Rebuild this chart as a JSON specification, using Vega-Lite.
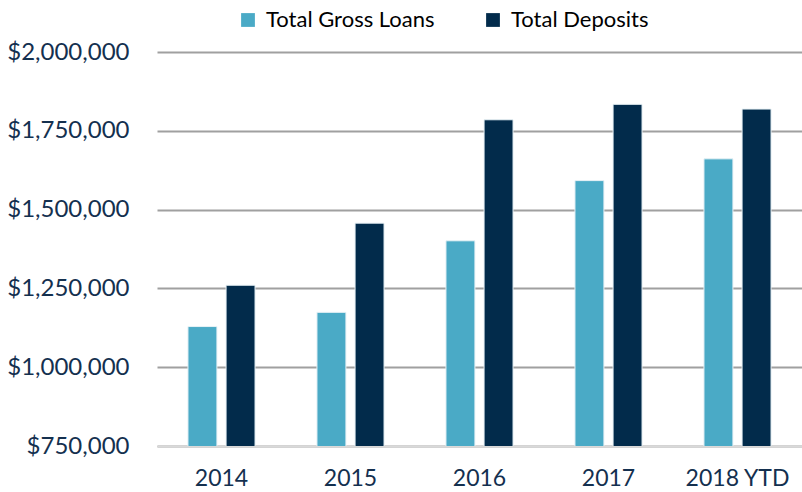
{
  "$schema": "https://vega.github.io/schema/vega-lite/v6.json",
  "autosize": "none",
  "width": 645,
  "height": 394,
  "padding": {"left": 157, "top": 52, "right": 0, "bottom": 46},
  "background": "white",
  "data": {
    "values": [
      {"year": "2014", "series": "Total Gross Loans", "value": 1129000},
      {"year": "2014", "series": "Total Deposits", "value": 1260000},
      {"year": "2015", "series": "Total Gross Loans", "value": 1174000},
      {"year": "2015", "series": "Total Deposits", "value": 1457000},
      {"year": "2016", "series": "Total Gross Loans", "value": 1401000},
      {"year": "2016", "series": "Total Deposits", "value": 1785000},
      {"year": "2017", "series": "Total Gross Loans", "value": 1592000},
      {"year": "2017", "series": "Total Deposits", "value": 1834000},
      {"year": "2018 YTD", "series": "Total Gross Loans", "value": 1661000},
      {"year": "2018 YTD", "series": "Total Deposits", "value": 1819000}
    ]
  },
  "config": {
    "view": {"stroke": null},
    "font": "Lato"
  },
  "mark": {"type": "bar", "stroke": "#e8f2f6", "strokeWidth": 1, "clip": true},
  "encoding": {
    "x": {
      "field": "year",
      "type": "nominal",
      "sort": null,
      "scale": {"paddingInner": 0.48, "paddingOuter": 0.24},
      "axis": {
        "title": null,
        "labelAngle": 0,
        "labelFont": "Lato",
        "labelFontSize": 23,
        "labelColor": "#14304f",
        "labelPadding": 21,
        "ticks": false,
        "domainColor": "#d9d9d9",
        "domainWidth": 2,
        "grid": false
      }
    },
    "xOffset": {
      "field": "series",
      "type": "nominal",
      "sort": ["Total Gross Loans", "Total Deposits"],
      "scale": {"paddingInner": 0.24, "paddingOuter": 0}
    },
    "y": {
      "field": "value",
      "type": "quantitative",
      "scale": {"domain": [750000, 2000000], "nice": false, "zero": false},
      "axis": {
        "title": null,
        "values": [750000, 1000000, 1250000, 1500000, 1750000, 2000000],
        "format": "$,.0f",
        "labelFont": "Lato",
        "labelFontSize": 24,
        "labelColor": "#14304f",
        "labelPadding": 28,
        "ticks": false,
        "domain": false,
        "gridColor": "#a0a0a0",
        "gridWidth": 2
      }
    },
    "color": {
      "field": "series",
      "type": "nominal",
      "sort": ["Total Gross Loans", "Total Deposits"],
      "scale": {"domain": ["Total Gross Loans", "Total Deposits"], "range": ["#4aaac6", "#022b4b"]},
      "legend": {
        "title": null,
        "orient": "none",
        "direction": "horizontal",
        "legendX": 80,
        "legendY": -43,
        "symbolType": "square",
        "symbolSize": 190,
        "symbolStrokeWidth": 0,
        "labelFont": "Lato",
        "labelFontSize": 22,
        "labelColor": "#000000",
        "labelOffset": 7,
        "labelLimit": 400,
        "columnPadding": 47
      }
    }
  }
}
